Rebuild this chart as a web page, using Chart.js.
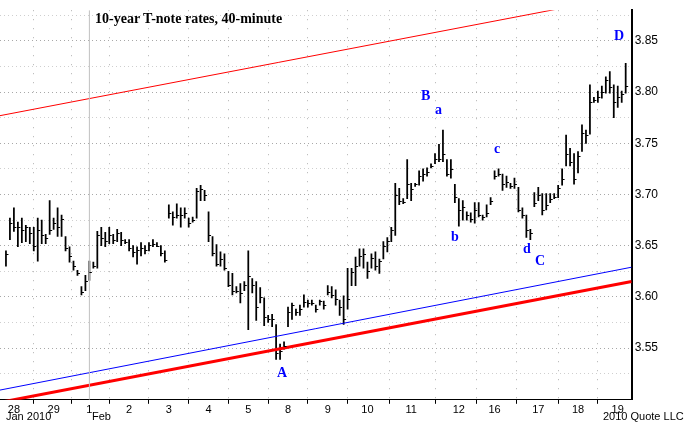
<!DOCTYPE html>
<html>
<head>
<meta charset="utf-8">
<script src="https://cdn.jsdelivr.net/npm/chart.js@4"></script>
<style>
  body { margin: 0; background: #fff; }
  #wrap { position: relative; width: 685px; height: 423px; }
  .txt { position: absolute; font-family: Arial, "Liberation Sans", sans-serif; font-size: 11px; color: #000; white-space: nowrap; }
  .wave { position: absolute; font-family: "Liberation Serif", serif; font-weight: bold; font-size: 14px; color: #0000ff; }
</style>
</head>
<body>
<div id="wrap">
  <canvas id="c" width="685" height="423"></canvas>
  <div class="txt" style="left:95px;top:11px;font-family:'Liberation Serif',serif;font-weight:bold;font-size:14px;">10-year T-note rates, 40-minute</div>
  <div class="txt" style="left:6px;top:410px;">Jan 2010</div>
  <div class="txt" style="left:92px;top:410px;">Feb</div>
  <div class="txt" style="left:603px;top:410px;">2010 Quote LLC</div>
  <div class="wave" style="left:277px;top:365px;">A</div>
  <div class="wave" style="left:421px;top:88px;">B</div>
  <div class="wave" style="left:435px;top:102px;">a</div>
  <div class="wave" style="left:451px;top:229px;">b</div>
  <div class="wave" style="left:494px;top:141px;">c</div>
  <div class="wave" style="left:523px;top:241px;">d</div>
  <div class="wave" style="left:535px;top:253px;">C</div>
  <div class="wave" style="left:614px;top:28px;">D</div>
</div>
<script>
// bar highs / lows / closes, one per 40-minute bar
const highs = [
  3.645,3.677,3.687,3.673,3.677,3.670,3.668,3.668,3.677,3.675,3.661,3.694,3.677,3.687,3.680,3.659,3.649,3.635,3.626,3.610,
  3.621,3.635,3.634,3.664,3.668,3.663,3.668,3.661,3.666,3.663,3.656,3.656,3.650,3.649,3.653,3.650,3.653,3.656,3.653,3.650,3.645,
  3.690,3.683,3.691,3.687,3.687,3.677,3.678,3.706,3.709,3.704,3.683,
  3.659,3.651,3.644,3.642,3.625,3.623,3.610,3.613,3.615,3.645,3.618,3.615,3.609,3.599,3.582,3.583,3.573,3.554,3.556,
  3.590,3.594,3.588,3.592,3.602,3.597,3.597,3.592,3.597,3.596,3.611,3.610,3.607,3.597,3.601,3.628,3.628,3.639,3.647,3.647,
  3.634,3.642,3.644,3.637,3.654,3.658,3.668,
  3.711,3.706,3.696,3.734,3.711,3.711,3.723,3.725,3.726,3.730,3.740,3.749,3.763,3.734,3.734,
  3.710,3.696,3.694,3.683,3.682,3.692,3.692,3.680,3.690,3.697,
  3.723,3.725,3.720,3.718,3.711,3.716,3.707,3.687,3.680,3.666,3.702,3.707,3.701,3.701,3.701,3.701,3.709,3.725,3.758,3.745,
  3.740,3.742,3.768,3.763,
  3.807,3.795,3.801,3.806,3.815,3.820,3.807,3.806,3.801,3.828
];
const lows = [
  3.630,3.656,3.664,3.649,3.653,3.654,3.652,3.645,3.635,3.652,3.652,3.661,3.666,3.659,3.659,3.645,3.634,3.626,3.621,3.602,
  3.606,3.616,3.628,3.628,3.650,3.649,3.652,3.652,3.654,3.650,3.652,3.645,3.639,3.632,3.640,3.642,3.645,3.649,3.649,3.640,3.634,
  3.677,3.670,3.677,3.668,3.677,3.668,3.673,3.677,3.694,3.694,3.654,
  3.640,3.630,3.630,3.626,3.610,3.602,3.604,3.594,3.606,3.568,3.604,3.577,3.594,3.572,3.575,3.571,3.539,3.539,3.549,
  3.571,3.578,3.582,3.582,3.590,3.590,3.592,3.585,3.592,3.588,3.602,3.599,3.592,3.582,3.573,3.588,3.611,3.611,3.630,3.628,
  3.618,3.628,3.626,3.623,3.637,3.644,3.654,
  3.660,3.690,3.691,3.696,3.694,3.708,3.709,3.713,3.718,3.726,3.730,3.732,3.732,3.718,3.716,
  3.692,3.669,3.675,3.675,3.673,3.672,3.678,3.675,3.678,3.690,
  3.715,3.718,3.704,3.707,3.706,3.706,3.683,3.677,3.658,3.656,3.688,3.694,3.680,3.685,3.692,3.696,3.697,3.709,3.728,3.728,
  3.710,3.721,3.742,3.750,
  3.759,3.790,3.790,3.794,3.799,3.799,3.775,3.785,3.790,3.799
];
const closes = [
  3.642,3.672,3.668,3.668,3.665,3.668,3.662,3.650,3.665,3.660,3.658,3.665,3.672,3.668,3.676,3.648,3.640,3.630,3.623,3.605,
  3.616,3.624,3.630,3.660,3.658,3.655,3.660,3.656,3.662,3.656,3.654,3.648,3.644,3.646,3.648,3.646,3.651,3.652,3.650,3.643,3.636,
  3.682,3.678,3.680,3.680,3.682,3.672,3.675,3.703,3.705,3.700,3.660,
  3.643,3.632,3.637,3.628,3.612,3.606,3.606,3.604,3.612,3.620,3.612,3.590,3.600,3.580,3.578,3.578,3.545,3.547,3.552,
  3.585,3.592,3.585,3.588,3.595,3.594,3.594,3.588,3.596,3.592,3.605,3.602,3.598,3.590,3.578,3.598,3.624,3.630,3.640,3.642,
  3.625,3.638,3.630,3.635,3.650,3.655,3.665,
  3.700,3.694,3.693,3.710,3.705,3.710,3.718,3.720,3.722,3.728,3.735,3.735,3.740,3.720,3.725,
  3.698,3.685,3.688,3.680,3.676,3.685,3.680,3.678,3.682,3.694,
  3.718,3.720,3.710,3.712,3.708,3.710,3.685,3.680,3.665,3.662,3.692,3.700,3.685,3.690,3.696,3.698,3.706,3.715,3.740,3.732,
  3.715,3.738,3.760,3.758,
  3.790,3.792,3.795,3.800,3.812,3.805,3.790,3.795,3.798,3.806
];
// first bar index of each labelled day
const dayIdx = [2, 12, 21, 31, 41, 51, 61, 71, 81, 91, 102, 114, 123, 134, 144, 154];
const dayLabels = ['28','29','1','2','3','4','5','8','9','10','11','12','16','17','18','19'];
const febIdx = 21;
const yTicks = [3.525,3.55,3.575,3.6,3.625,3.65,3.675,3.7,3.725,3.75,3.775,3.8,3.825,3.85,3.875];
// trend lines: value at left and right edge
const upperRed = [3.777, 3.895];
const blueLine = [3.509, 3.629];
const lowerRed = [3.497, 3.615];

const xMin = -1.5, xMax = highs.length + 0.5;
const bars = highs.map((h, i) => ({ x: i, y: [lows[i], h] }));
const seg = v => [{ x: xMin, y: v[0] }, { x: xMax, y: v[1] }];

const closeTicks = {
  id: 'closeTicks',
  afterDatasetsDraw(chart) {
    const xs = chart.scales.x, ys = chart.scales.y, ctx = chart.ctx;
    ctx.save();
    ctx.strokeStyle = '#000';
    ctx.lineWidth = 1;
    closes.forEach((c, i) => {
      const px = xs.getPixelForValue(i), py = Math.round(ys.getPixelForValue(c)) + 0.5;
      ctx.beginPath();
      ctx.moveTo(px, py);
      ctx.lineTo(px + 2.5, py);
      ctx.stroke();
    });
    ctx.restore();
  }
};

new Chart(document.getElementById('c'), {
  type: 'bar',
  data: {
    datasets: [
      { type: 'line', data: [{ x: febIdx, y: 3.4995 }, { x: febIdx, y: 3.88 }], borderColor: '#c0c0c0', borderWidth: 1, pointRadius: 0 },
      { type: 'line', data: seg(upperRed), borderColor: '#ff0000', borderWidth: 1, pointRadius: 0 },
      { type: 'line', data: seg(blueLine), borderColor: '#0000ff', borderWidth: 1, pointRadius: 0 },
      { type: 'line', data: seg(lowerRed), borderColor: '#ff0000', borderWidth: 3, pointRadius: 0 },
      { data: bars, backgroundColor: '#000', barThickness: 1.1, grouped: false }
    ]
  },
  options: {
    responsive: false,
    animation: false,
    layout: { padding: { top: 0, right: 24, bottom: 6, left: 0 } },
    plugins: { legend: { display: false }, tooltip: { enabled: false } },
    scales: {
      x: {
        type: 'linear', min: xMin, max: xMax, offset: false,
        afterBuildTicks: s => { s.ticks = dayIdx.map(v => ({ value: v })); },
        ticks: {
          autoSkip: false, maxRotation: 0, padding: 0,
          color: '#000', font: { family: 'Arial', size: 11 },
          callback: v => dayLabels[dayIdx.indexOf(v)]
        },
        grid: { color: '#b0b0b0', tickColor: '#000', tickLength: 4, lineWidth: 1 },
        border: { color: '#000', width: 1, dash: [1, 8] }
      },
      y: {
        position: 'right', min: 3.4995, max: 3.88,
        afterBuildTicks: s => { s.ticks = yTicks.map(v => ({ value: v })); },
        ticks: {
          color: '#000', font: { family: 'Arial', size: 12 }, padding: 3,
          callback: v => (Math.round(v * 1000) % 50 === 0 ? v.toFixed(2) : '')
        },
        grid: {
          color: ctx => (Math.round(ctx.tick.value * 1000) % 50 === 0 ? '#a8a8a8' : '#cfcfcf'),
          tickLength: 0, lineWidth: 1
        },
        border: { color: '#000', width: 2, dash: [1, 3] }
      }
    }
  },
  plugins: [closeTicks]
});
</script>
</body>
</html>
